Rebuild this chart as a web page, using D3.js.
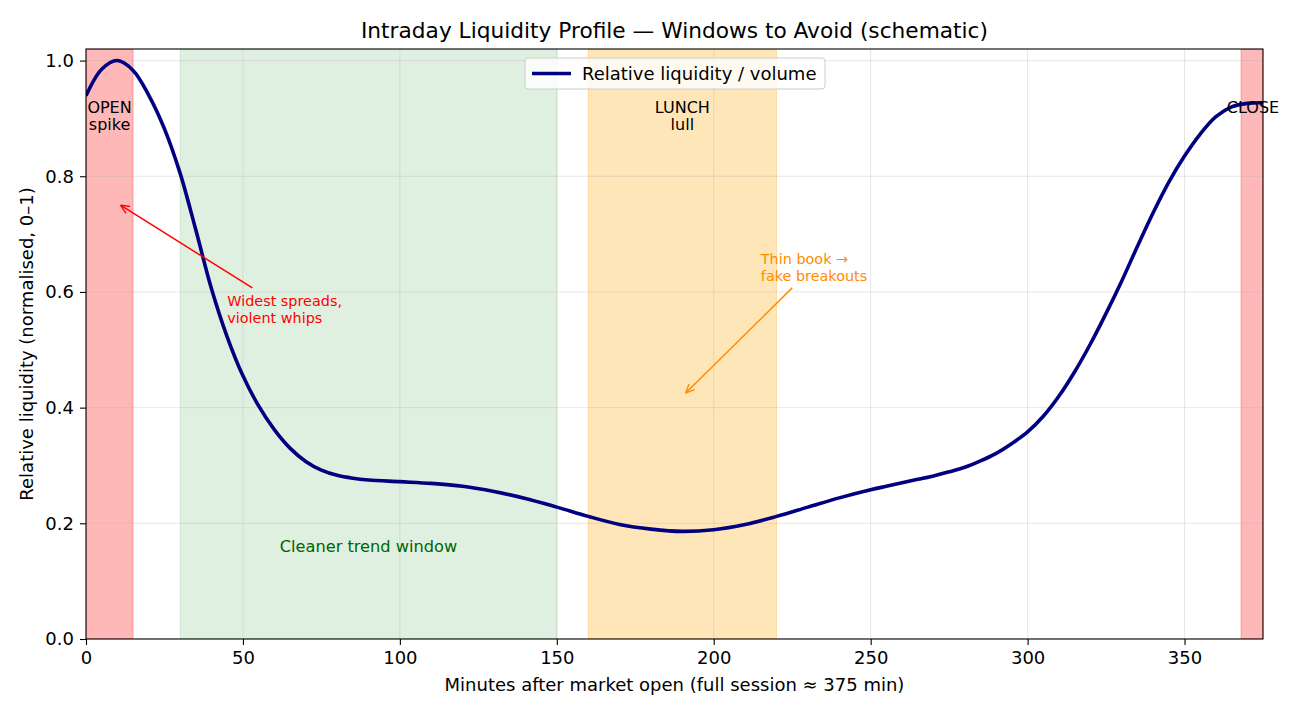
<!DOCTYPE html>
<html>
<head>
<meta charset="utf-8">
<script src="https://cdn.jsdelivr.net/npm/d3@7"></script>
<style>
  body { margin: 0; background: #fff; }
  svg { font-family: "DejaVu Sans", sans-serif; }
</style>
</head>
<body>
<svg width="1300" height="715"></svg>
<script>
// minutes after open and relative liquidity
const minutes = [0, 5, 10, 15, 20, 25, 30, 35, 40, 45, 50, 55, 60, 65, 70, 75, 80, 85, 90, 100, 110,
  120, 130, 140, 150, 160, 170, 180, 190, 200, 210, 220, 230, 240, 250, 255, 260, 265, 270, 275, 280,
  285, 290, 295, 300, 305, 310, 315, 320, 325, 330, 335, 340, 345, 350, 355, 360, 365, 370, 375];
const liquidity = [0.939, 0.985, 1.0, 0.983, 0.94, 0.882, 0.805, 0.707, 0.605, 0.522, 0.455, 0.403,
  0.362, 0.330, 0.307, 0.292, 0.283, 0.278, 0.275, 0.272, 0.269, 0.264, 0.255, 0.243, 0.228, 0.212,
  0.198, 0.19, 0.186, 0.189, 0.198, 0.212, 0.228, 0.244, 0.258, 0.264, 0.27, 0.276, 0.282, 0.289, 0.297,
  0.308, 0.321, 0.338, 0.358, 0.385, 0.42, 0.462, 0.51, 0.563, 0.619, 0.679, 0.737, 0.79, 0.835, 0.873,
  0.903, 0.92, 0.926, 0.927];

// shaded windows [start, end]
const spanStarts = [0, 30, 160, 368];
const spanEnds = [15, 150, 220, 375];
const spanColors = ['red', 'green', 'orange', 'red'];
const spanAlpha = [0.28, 0.12, 0.28, 0.28];

const xTicks = [0, 50, 100, 150, 200, 250, 300, 350];
const yTicks = [0, 0.2, 0.4, 0.6, 0.8, 1.0];

const svg = d3.select('svg');
const margin = {left: 86, right: 37, top: 49, bottom: 76};
const W = 1300, H = 715;

const x = d3.scaleLinear().domain([0, 375]).range([margin.left, W - margin.right]);
const y = d3.scaleLinear().domain([0, 1.02]).range([H - margin.bottom, margin.top]);

svg.append('defs').append('clipPath').attr('id', 'clip')
  .append('rect')
    .attr('x', margin.left).attr('y', margin.top)
    .attr('width', x(375) - x(0)).attr('height', y(0) - y(1.02));

const plot = svg.append('g').attr('clip-path', 'url(#clip)');

// spans
plot.selectAll('rect.span')
  .data(spanStarts.map((s, i) => ({s, e: spanEnds[i], c: spanColors[i], a: spanAlpha[i]})))
  .enter().append('rect')
    .attr('class', 'span')
    .attr('x', d => x(d.s))
    .attr('width', d => x(d.e) - x(d.s))
    .attr('y', y(1.02))
    .attr('height', y(0) - y(1.02))
    .attr('fill', d => d.c)
    .attr('fill-opacity', d => d.a)
    .attr('stroke', d => d.c)
    .attr('stroke-opacity', d => d.a)
    .attr('stroke-width', 1);

// grid
plot.selectAll('line.gx').data(xTicks).enter().append('line')
  .attr('x1', d => x(d)).attr('x2', d => x(d))
  .attr('y1', y(0)).attr('y2', y(1.02))
  .attr('stroke', '#b0b0b0').attr('stroke-opacity', 0.3).attr('stroke-width', 1);
plot.selectAll('line.gy').data(yTicks).enter().append('line')
  .attr('y1', d => y(d)).attr('y2', d => y(d))
  .attr('x1', x(0)).attr('x2', x(375))
  .attr('stroke', '#b0b0b0').attr('stroke-opacity', 0.3).attr('stroke-width', 1);

// curve
const line = d3.line()
  .x((d, i) => x(minutes[i]))
  .y(d => y(d))
  .curve(d3.curveCatmullRom.alpha(0.5));

plot.append('path')
  .datum(liquidity)
  .attr('d', line)
  .attr('fill', 'none')
  .attr('stroke', 'navy')
  .attr('stroke-width', 3.6)
  .attr('stroke-linejoin', 'round');

// window labels
const labels = [
  {x: 7.5, lines: ['OPEN', 'spike']},
  {x: 190, lines: ['LUNCH', 'lull']},
  {x: 371.8, lines: ['CLOSE']}
];
labels.forEach(l => {
  const t = svg.append('text')
    .attr('text-anchor', 'middle')
    .attr('font-size', 16)
    .attr('fill', '#000');
  l.lines.forEach((s, i) => {
    t.append('tspan').attr('x', x(l.x)).attr('y', 113 + i * 17).text(s);
  });
});

svg.append('text')
  .attr('x', x(90)).attr('y', 552)
  .attr('text-anchor', 'middle')
  .attr('font-size', 16.2)
  .attr('fill', 'darkgreen')
  .text('Cleaner trend window');

// arrows
const defs = svg.select('defs');
['red', 'darkorange'].forEach(c => {
  defs.append('marker')
    .attr('id', 'arr-' + c)
    .attr('viewBox', '0 0 10 10')
    .attr('refX', 10).attr('refY', 5)
    .attr('markerWidth', 9).attr('markerHeight', 9)
    .attr('markerUnits', 'userSpaceOnUse')
    .attr('orient', 'auto')
    .append('path')
      .attr('d', 'M0,0.5 L10,5 L0,9.5')
      .attr('fill', 'none')
      .attr('stroke', c)
      .attr('stroke-width', 1.5);
});

function annotate(from, to, color, lines, tx, ty) {
  svg.append('line')
    .attr('x1', x(from[0])).attr('y1', y(from[1]))
    .attr('x2', x(to[0])).attr('y2', y(to[1]))
    .attr('stroke', color).attr('stroke-width', 1.5)
    .attr('marker-end', 'url(#arr-' + color + ')');
  const t = svg.append('text').attr('font-size', 14.4).attr('fill', color);
  lines.forEach((s, i) => {
    t.append('tspan').attr('x', x(tx)).attr('y', ty + i * 16.5).text(s);
  });
}
annotate([53, 0.607], [11, 0.75], 'red', ['Widest spreads,', 'violent whips'], 45, 306);
annotate([225, 0.607], [191, 0.425], 'darkorange', ['Thin book →', 'fake breakouts'], 215, 264);

// axes
const xAxis = svg.append('g')
  .attr('transform', `translate(0,${y(0)})`)
  .call(d3.axisBottom(x).tickValues(xTicks).tickSize(6).tickPadding(6).tickFormat(d3.format('d')));
const yAxis = svg.append('g')
  .attr('transform', `translate(${x(0)},0)`)
  .call(d3.axisLeft(y).tickValues(yTicks).tickSize(6).tickPadding(6).tickFormat(d3.format('.1f')));
[xAxis, yAxis].forEach(a => {
  a.selectAll('text').attr('font-size', 18).attr('fill', '#000')
    .attr('font-family', '"DejaVu Sans", sans-serif');
  a.selectAll('line').attr('stroke', '#000').attr('stroke-width', 1.1);
  a.select('.domain').remove();
});

// frame
svg.append('rect')
  .attr('x', x(0)).attr('y', y(1.02))
  .attr('width', x(375) - x(0)).attr('height', y(0) - y(1.02))
  .attr('fill', 'none').attr('stroke', '#000').attr('stroke-width', 1.1);

// legend
const lg = svg.append('g').attr('transform', 'translate(525,58)');
lg.append('rect')
  .attr('width', 300).attr('height', 31).attr('rx', 3)
  .attr('fill', '#fff').attr('fill-opacity', 0.8)
  .attr('stroke', '#ccc');
lg.append('line')
  .attr('x1', 7).attr('x2', 46).attr('y1', 15.5).attr('y2', 15.5)
  .attr('stroke', 'navy').attr('stroke-width', 3.6);
lg.append('text')
  .attr('x', 57).attr('y', 22)
  .attr('font-size', 18)
  .text('Relative liquidity / volume');

// titles
svg.append('text')
  .attr('x', (x(0) + x(375)) / 2).attr('y', 38)
  .attr('text-anchor', 'middle')
  .attr('font-size', 21.7)
  .text('Intraday Liquidity Profile — Windows to Avoid (schematic)');
svg.append('text')
  .attr('x', (x(0) + x(375)) / 2).attr('y', 691)
  .attr('text-anchor', 'middle')
  .attr('font-size', 18)
  .text('Minutes after market open (full session ≈ 375 min)');
svg.append('text')
  .attr('transform', `translate(33,${(y(0) + y(1.02)) / 2}) rotate(-90)`)
  .attr('text-anchor', 'middle')
  .attr('font-size', 18)
  .text('Relative liquidity (normalised, 0–1)');
</script>
</body>
</html>
